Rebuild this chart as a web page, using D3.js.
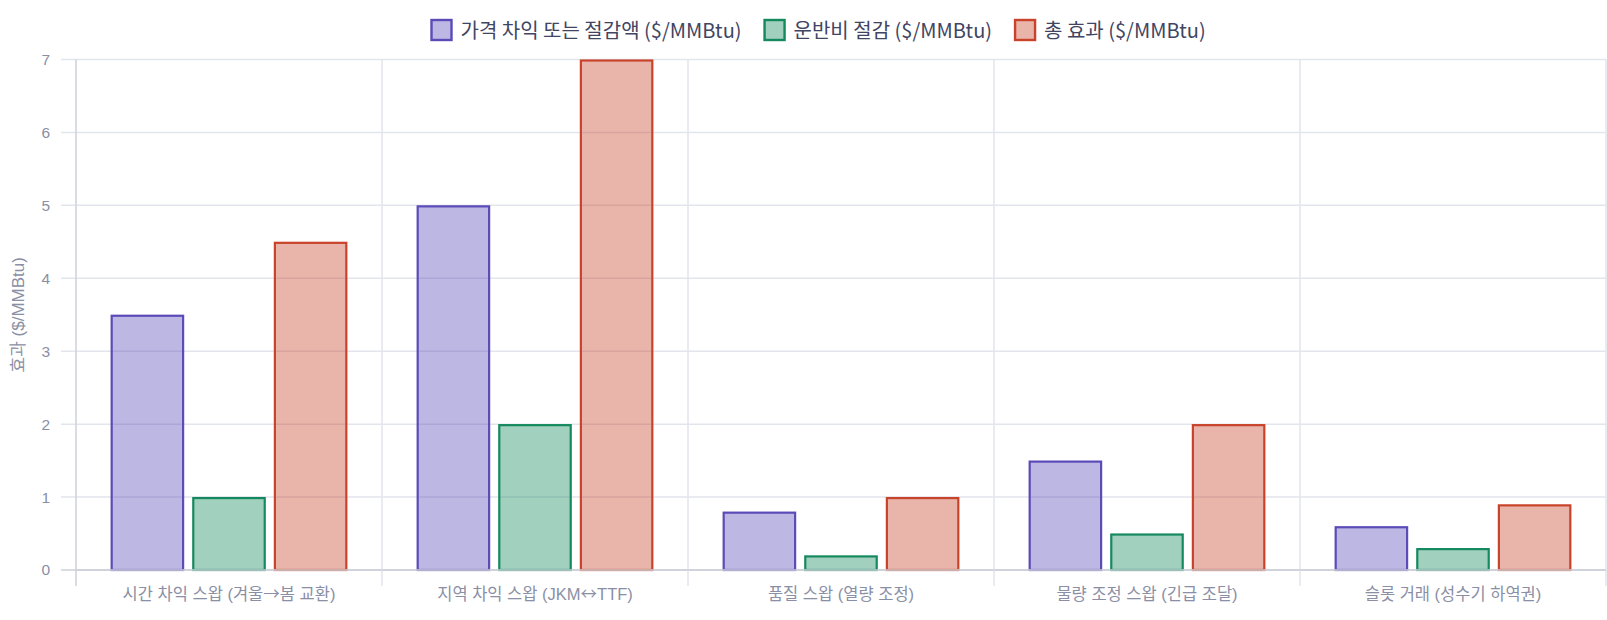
<!DOCTYPE html>
<html><head><meta charset="utf-8">
<script src="https://cdn.jsdelivr.net/npm/d3@7"></script>
<style>
html,body{margin:0;padding:0;background:#fff;}
svg{display:block;}
</style></head>
<body><svg id="c" width="1607" height="620"></svg>
<script>
const categories = ["시간 차익 스왑 (겨울→봄 교환)", "지역 차익 스왑 (JKM↔TTF)", "품질 스왑 (열량 조정)", "물량 조정 스왑 (긴급 조달)", "슬롯 거래 (성수기 하역권)"];
const seriesNames = ["가격 차익 또는 절감액 ($/MMBtu)", "운반비 절감 ($/MMBtu)", "총 효과 ($/MMBtu)"];
const priceGain = [3.5, 5, 0.8, 1.5, 0.6];
const freightSaving = [1, 2, 0.2, 0.5, 0.3];
const totalEffect = [4.5, 7, 1, 2, 0.9];
const yTicks = [0, 1, 2, 3, 4, 5, 6, 7];
const yTitle = "효과 ($/MMBtu)";
const borderColors = ["#5a4bb8", "#15895e", "#c8432a"];
const fillColors = ["rgba(90,75,184,0.4)", "rgba(21,137,94,0.4)", "rgba(200,67,42,0.4)"];

const seriesValues = [priceGain, freightSaving, totalEffect];
const svg = d3.select("#c");
const L = 76, R = 1606, T = 59.5, B = 570;
const FONT = "'Liberation Sans', 'Noto Sans CJK KR', sans-serif";
const CJK = "'Noto Sans CJK KR', sans-serif";
const tickColor = "#8a8fa5";

const x0 = d3.scaleBand().domain(categories).range([L, R]).paddingInner(0).paddingOuter(0);
const y = d3.scaleLinear().domain([0, 7]).range([B, T]);
const groupW = x0.bandwidth() * 0.8;
const x1 = d3.scaleBand().domain(d3.range(seriesNames.length)).range([0, groupW]);
const barW = x1.bandwidth() * 0.9;

// horizontal grid
const g = svg.append("g");
g.selectAll("line.h").data(yTicks).join("line")
  .attr("x1", L - 15).attr("x2", R)
  .attr("y1", d => y(d)).attr("y2", d => y(d))
  .attr("stroke", d => d === 0 ? "#cdd0d8" : "#e3e5ec").attr("stroke-width", 1.5);
// vertical grid at category boundaries
const bounds = categories.map(c => x0(c)).concat([R]);
g.selectAll("line.v").data(bounds).join("line")
  .attr("x1", d => d).attr("x2", d => d)
  .attr("y1", T).attr("y2", B + 16)
  .attr("stroke", (d, i) => i === 0 ? "#cdd0d8" : "#e3e5ec").attr("stroke-width", 1.5);

// bars
const groups = svg.append("g").selectAll("g").data(categories).join("g")
  .attr("transform", c => `translate(${x0(c) + (x0.bandwidth() - groupW) / 2},0)`);
groups.selectAll("rect").data((c, ci) => seriesValues.map((s, si) => ({si, v: s[ci]}))).join("rect")
  .attr("x", d => x1(d.si) + (x1.bandwidth() - barW) / 2 + 1)
  .attr("width", barW - 2)
  .attr("y", d => y(d.v) + 1)
  .attr("height", d => y(0) - y(d.v) - 1)
  .attr("fill", d => fillColors[d.si])
  .attr("stroke", d => borderColors[d.si])
  .attr("stroke-width", 2.2);

// zero line on top
svg.append("line").attr("x1", L).attr("x2", R).attr("y1", y(0)).attr("y2", y(0))
  .attr("stroke", "#cdd0d8").attr("stroke-width", 1.5);

// y axis labels
const yAxis = d3.axisLeft(y).tickValues(yTicks).tickSize(0).tickPadding(0).tickFormat(d3.format("d"));
const ya = svg.append("g").attr("transform", `translate(${L - 26},0)`).call(yAxis);
ya.select(".domain").remove();
ya.selectAll("text").attr("fill", tickColor).style("font-family", FONT).style("font-size", "15.5px");

// x axis labels
const xAxis = d3.axisBottom(x0).tickSize(0).tickPadding(0);
const xa = svg.append("g").attr("transform", `translate(0,${B + 18})`).call(xAxis);
xa.select(".domain").remove();
xa.selectAll("text").attr("fill", tickColor).style("font-family", FONT).style("font-size", "16.5px")
  .each(function(d) {
    const t = d3.select(this);
    t.text(null);
    d.split(/([→↔])/).forEach(part => {
      if (!part) return;
      const sp = t.append("tspan").text(part);
      if (part === "→" || part === "↔") sp.style("font-family", CJK);
    });
  });

// y title
svg.append("text").attr("transform", `translate(24,${(T + B) / 2}) rotate(-90)`)
  .attr("text-anchor", "middle").attr("fill", tickColor)
  .style("font-family", FONT).style("font-size", "17px").text(yTitle);

// legend
const leg = svg.append("g");
let cx = 430.5;
seriesNames.forEach((name, i) => {
  const it = leg.append("g");
  it.append("rect").attr("x", cx + 1).attr("y", 20).attr("width", 20).attr("height", 20)
    .attr("fill", fillColors[i]).attr("stroke", borderColors[i]).attr("stroke-width", 2.4);
  const t = it.append("text").attr("x", cx + 30).attr("y", 30.5).attr("dy", "0.35em")
    .attr("fill", "#3f4563").style("font-family", CJK)
    .style("font-size", "20px").text(name);
  cx += 30 + t.node().getComputedTextLength() + 22;
});
</script></body></html>
